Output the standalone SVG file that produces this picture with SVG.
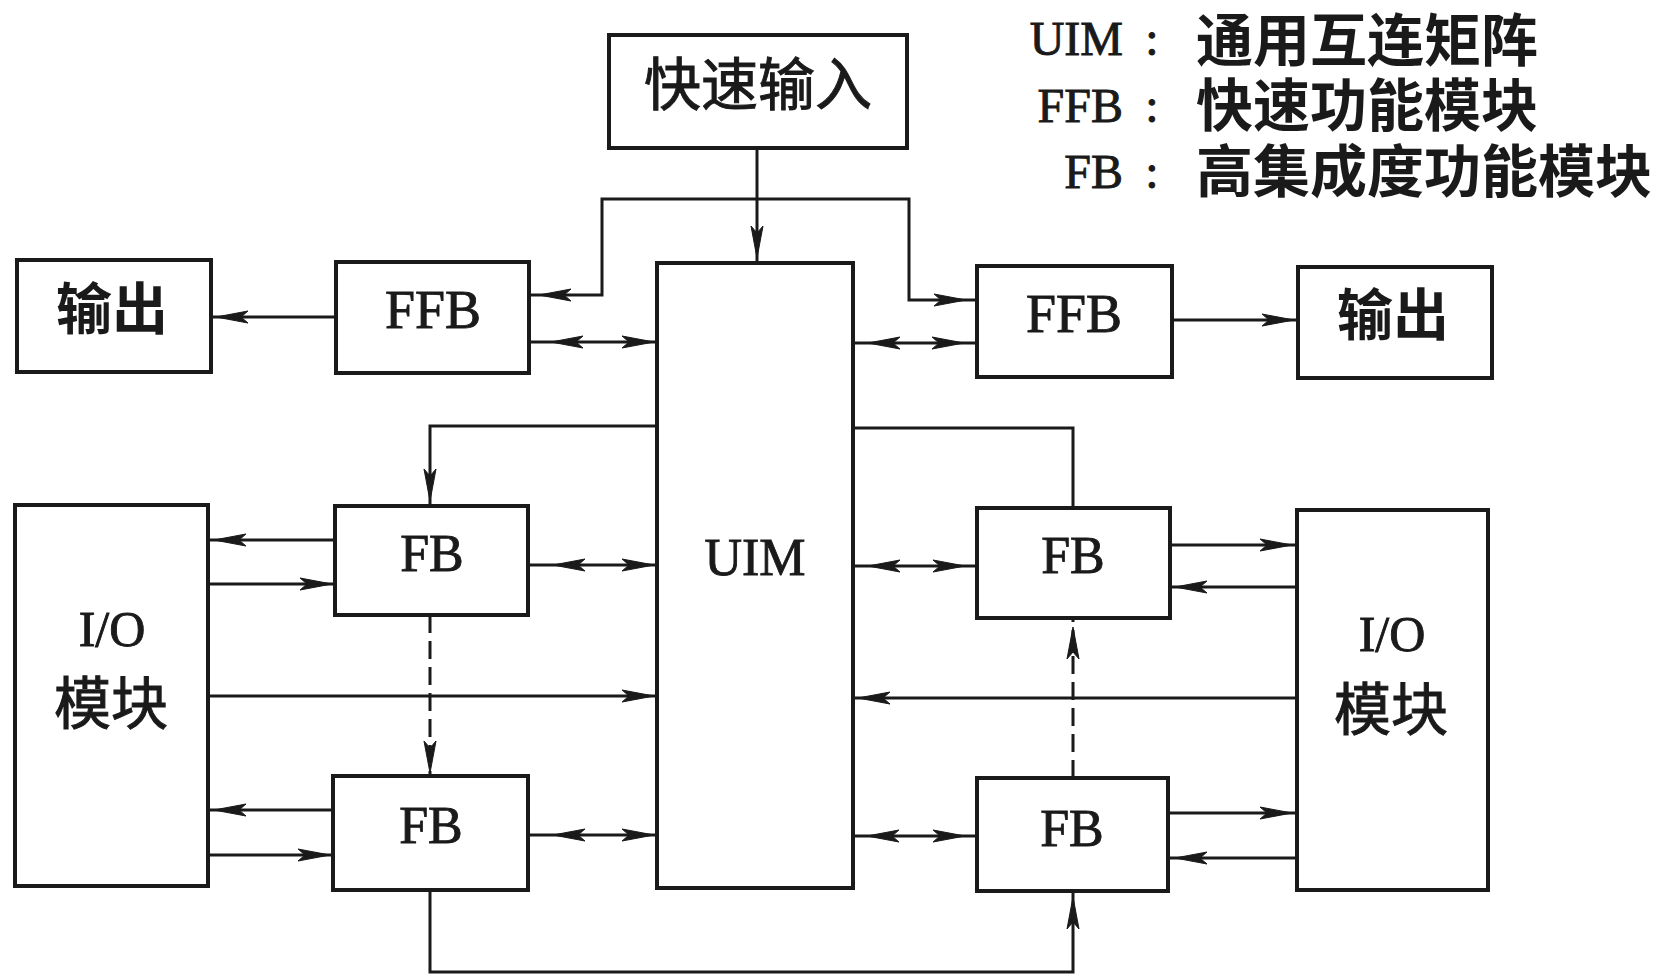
<svg xmlns="http://www.w3.org/2000/svg" xmlns:xlink="http://www.w3.org/1999/xlink" width="1663" height="976" viewBox="0 0 1663 976">
<style>
.box{fill:#fff;stroke:#1a1a1a;stroke-width:4}
.ln{fill:none;stroke:#1a1a1a;stroke-width:3}
.dash{fill:none;stroke:#1a1a1a;stroke-width:3;stroke-dasharray:18 8}
.lat{font-family:"Liberation Serif","Times New Roman",serif;fill:#1a1a1a;stroke:#1a1a1a;stroke-width:0.9}
.cjk{font-family:"Noto Sans CJK SC","Noto Sans CJK JP",sans-serif;fill:#1a1a1a}
.bold{font-weight:bold}
.ah{fill:#1a1a1a;stroke:#1a1a1a;stroke-width:1}
</style>
<defs>
<path id="aR" class="ah" d="M0,0 L-32,-6 L-25,0 L-32,6 Z"/>
</defs>
<rect width="1663" height="976" fill="#fff"/>

<g id="legend">
<text class="lat" font-size="48" text-anchor="end" x="1123" y="55">UIM</text>
<text class="lat" font-size="48" text-anchor="middle" x="1152" y="55">:</text>
<text class="cjk bold" font-size="57" x="1196" y="61">通用互连矩阵</text>
<text class="lat" font-size="48" text-anchor="end" x="1123" y="122">FFB</text>
<text class="lat" font-size="48" text-anchor="middle" x="1152" y="122">:</text>
<text class="cjk bold" font-size="57" x="1196" y="126">快速功能模块</text>
<text class="lat" font-size="48" text-anchor="end" x="1123" y="188">FB</text>
<text class="lat" font-size="48" text-anchor="middle" x="1152" y="188">:</text>
<text class="cjk bold" font-size="57" x="1196" y="192">高集成度功能模块</text>
</g>

<g id="connectors">
<!-- fast input to UIM -->
<path class="ln" d="M757,148 V263"/>
<use xlink:href="#aR" transform="translate(757,258) rotate(90)"/>
<!-- bus to FFBs -->
<path class="ln" d="M529,295 H602 V199 H909 V300 H977"/>
<use xlink:href="#aR" transform="translate(539,295) rotate(180)"/>
<use xlink:href="#aR" transform="translate(966,300)"/>
<!-- left FFB to output -->
<path class="ln" d="M336,317 H211"/>
<use xlink:href="#aR" transform="translate(216,317) rotate(180)"/>
<!-- left FFB <-> UIM -->
<path class="ln" d="M529,342 H657"/>
<use xlink:href="#aR" transform="translate(551,342) rotate(180)"/>
<use xlink:href="#aR" transform="translate(654,342)"/>
<!-- UIM <-> right FFB -->
<path class="ln" d="M853,343 H977"/>
<use xlink:href="#aR" transform="translate(868,343) rotate(180)"/>
<use xlink:href="#aR" transform="translate(964,343)"/>
<!-- right FFB to output -->
<path class="ln" d="M1172,320 H1298"/>
<use xlink:href="#aR" transform="translate(1294,320)"/>
<!-- UIM to left FB top -->
<path class="ln" d="M657,426 H430 V506"/>
<use xlink:href="#aR" transform="translate(430,501) rotate(90)"/>
<!-- UIM to right FB top -->
<path class="ln" d="M853,428 H1073 V508"/>
<!-- left FB top <-> UIM -->
<path class="ln" d="M528,565 H657"/>
<use xlink:href="#aR" transform="translate(553,565) rotate(180)"/>
<use xlink:href="#aR" transform="translate(654,565)"/>
<!-- left IO <-> left FB top -->
<path class="ln" d="M335,540 H208"/>
<use xlink:href="#aR" transform="translate(214,540) rotate(180)"/>
<path class="ln" d="M208,584 H335"/>
<use xlink:href="#aR" transform="translate(332,584)"/>
<!-- left IO to UIM -->
<path class="ln" d="M208,696 H657"/>
<use xlink:href="#aR" transform="translate(654,696)"/>
<!-- dashed left -->
<path class="dash" d="M430,615 V776"/>
<use xlink:href="#aR" transform="translate(430,773) rotate(90)"/>
<!-- left FB bottom <-> UIM -->
<path class="ln" d="M528,835 H657"/>
<use xlink:href="#aR" transform="translate(553,835) rotate(180)"/>
<use xlink:href="#aR" transform="translate(654,835)"/>
<!-- left IO <-> left FB bottom -->
<path class="ln" d="M333,810 H208"/>
<use xlink:href="#aR" transform="translate(214,810) rotate(180)"/>
<path class="ln" d="M208,855 H333"/>
<use xlink:href="#aR" transform="translate(330,855)"/>
<!-- bottom loop -->
<path class="ln" d="M430,890 V972 H1073 V891"/>
<use xlink:href="#aR" transform="translate(1073,897) rotate(-90)"/>
<!-- right FB top <-> UIM -->
<path class="ln" d="M853,566 H977"/>
<use xlink:href="#aR" transform="translate(868,566) rotate(180)"/>
<use xlink:href="#aR" transform="translate(965,566)"/>
<!-- right FB top <-> right IO -->
<path class="ln" d="M1170,545 H1297"/>
<use xlink:href="#aR" transform="translate(1292,545)"/>
<path class="ln" d="M1297,587 H1170"/>
<use xlink:href="#aR" transform="translate(1175,587) rotate(180)"/>
<!-- right IO to UIM -->
<path class="ln" d="M1297,698 H853"/>
<use xlink:href="#aR" transform="translate(858,698) rotate(180)"/>
<!-- dashed right -->
<path class="dash" d="M1073,778 V618"/>
<use xlink:href="#aR" transform="translate(1073,627) rotate(-90)"/>
<!-- right FB bottom <-> UIM -->
<path class="ln" d="M853,836 H977"/>
<use xlink:href="#aR" transform="translate(867,836) rotate(180)"/>
<use xlink:href="#aR" transform="translate(965,836)"/>
<!-- right FB bottom <-> right IO -->
<path class="ln" d="M1168,813 H1297"/>
<use xlink:href="#aR" transform="translate(1292,813)"/>
<path class="ln" d="M1297,858 H1168"/>
<use xlink:href="#aR" transform="translate(1175,858) rotate(180)"/>
</g>

<g id="fast-input">
<rect class="box" x="609" y="35" width="298" height="113"/>
<text class="cjk" font-size="57" text-anchor="middle" x="758" y="105" stroke="#1a1a1a" stroke-width="1">快速输入</text>
</g>
<g id="uim">
<rect class="box" x="657" y="263" width="196" height="625"/>
<text class="lat" font-size="52" text-anchor="middle" x="755" y="575">UIM</text>
</g>
<g id="ffb-left">
<rect class="box" x="336" y="262" width="193" height="111"/>
<text class="lat" font-size="54" text-anchor="middle" x="433" y="328" stroke-width="1.4">FFB</text>
</g>
<g id="out-left">
<rect class="box" x="17" y="260" width="194" height="112"/>
<text class="cjk bold" font-size="56" text-anchor="middle" x="112" y="329">输出</text>
</g>
<g id="ffb-right">
<rect class="box" x="977" y="266" width="195" height="111"/>
<text class="lat" font-size="54" text-anchor="middle" x="1074" y="332" stroke-width="1.4">FFB</text>
</g>
<g id="out-right">
<rect class="box" x="1298" y="267" width="194" height="111"/>
<text class="cjk bold" font-size="56" text-anchor="middle" x="1393" y="335">输出</text>
</g>
<g id="fb-left-top">
<rect class="box" x="335" y="506" width="193" height="109"/>
<text class="lat" font-size="52" text-anchor="middle" x="432" y="571">FB</text>
</g>
<g id="fb-left-bottom">
<rect class="box" x="333" y="776" width="195" height="114"/>
<text class="lat" font-size="52" text-anchor="middle" x="431" y="843">FB</text>
</g>
<g id="fb-right-top">
<rect class="box" x="977" y="508" width="193" height="110"/>
<text class="lat" font-size="52" text-anchor="middle" x="1073" y="573">FB</text>
</g>
<g id="fb-right-bottom">
<rect class="box" x="977" y="778" width="191" height="113"/>
<text class="lat" font-size="52" text-anchor="middle" x="1072" y="846">FB</text>
</g>
<g id="io-left">
<rect class="box" x="15" y="505" width="193" height="381"/>
<text class="lat" font-size="50" text-anchor="middle" x="112" y="646">I/O</text>
<text class="cjk" font-size="57" text-anchor="middle" x="111" y="724" stroke="#1a1a1a" stroke-width="1">模块</text>
</g>
<g id="io-right">
<rect class="box" x="1297" y="510" width="191" height="380"/>
<text class="lat" font-size="50" text-anchor="middle" x="1392" y="651">I/O</text>
<text class="cjk" font-size="57" text-anchor="middle" x="1391" y="730" stroke="#1a1a1a" stroke-width="1">模块</text>
</g>
</svg>
